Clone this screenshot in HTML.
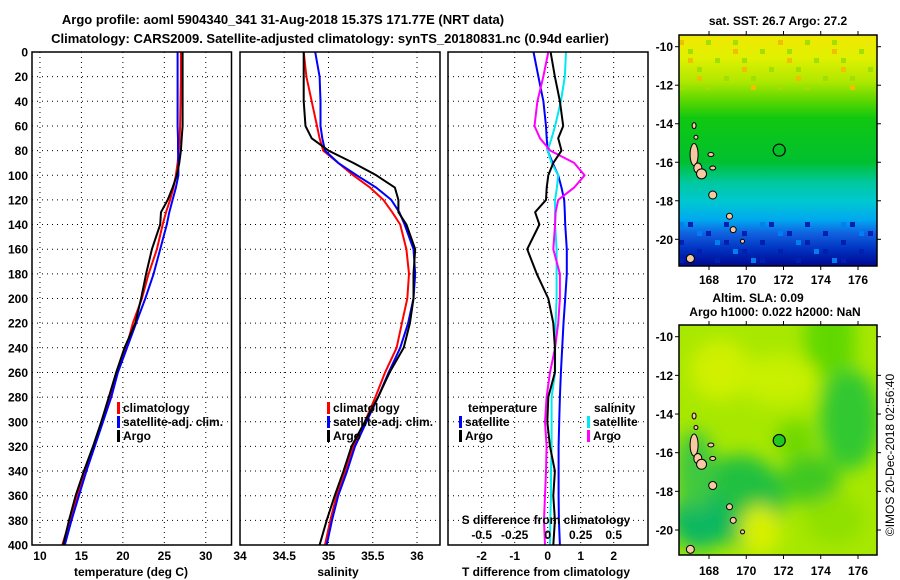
<!DOCTYPE html>
<html><head><meta charset="utf-8"><style>
html,body{margin:0;padding:0;background:#fff;}
svg{display:block;font-family:"Liberation Sans",Arial,sans-serif;font-weight:bold;}
</style></head><body>
<svg id="c" width="900" height="580" viewBox="0 0 900 580" xmlns="http://www.w3.org/2000/svg">
<defs>
<linearGradient id="sstg" x1="0" y1="0" x2="0" y2="1">
<stop offset="0" stop-color="#f0e800"/><stop offset="0.1" stop-color="#e0f000"/><stop offset="0.2" stop-color="#b0e800"/>
<stop offset="0.28" stop-color="#60d800"/><stop offset="0.36" stop-color="#10c810"/><stop offset="0.55" stop-color="#00c030"/>
<stop offset="0.64" stop-color="#00c8a0"/><stop offset="0.72" stop-color="#00c8d0"/><stop offset="0.8" stop-color="#00a8f0"/>
<stop offset="0.86" stop-color="#1060e0"/><stop offset="0.93" stop-color="#0030c0"/><stop offset="1" stop-color="#000890"/>
</linearGradient>
<filter id="bl"><feGaussianBlur stdDeviation="9"/></filter>
<clipPath id="clipTop"><rect x="679" y="35" width="198" height="231"/></clipPath>
<clipPath id="clipBot"><rect x="679" y="325" width="198" height="230"/></clipPath>
</defs>
<g id="root"></g>
</svg>
<script>
// ---------- data ----------
const depths = [0,20,40,60,70,80,90,100,110,120,130,140,160,180,200,220,240,260,280,300,320,340,360,380,400];
const tempClim = [27.0,27.0,26.95,26.9,26.85,26.75,26.6,26.4,26.1,25.7,25.2,24.8,24.1,23.1,22.3,21.2,20.4,19.3,18.4,17.4,16.5,15.4,14.5,13.6,12.7];
const tempSat  = [26.6,26.6,26.6,26.6,26.65,26.65,26.7,26.7,26.4,26.0,25.6,25.3,24.5,23.7,22.7,21.6,20.5,19.4,18.6,17.6,16.6,15.6,14.7,13.8,13.0];
const tempArgo = [27.2,27.2,27.2,27.2,27.1,27.0,26.8,26.5,26.0,25.4,24.6,24.5,23.5,22.8,22.2,21.5,20.2,19.2,18.3,17.4,16.4,15.3,14.3,13.5,12.8];
const salClim = [34.72,34.75,34.81,34.87,34.9,34.94,35.11,35.28,35.47,35.62,35.72,35.81,35.88,35.91,35.89,35.83,35.77,35.64,35.53,35.41,35.28,35.19,35.09,35.02,34.96];
const salSat  = [34.85,34.9,34.91,34.91,34.93,34.96,35.11,35.32,35.54,35.71,35.8,35.86,35.96,35.98,35.96,35.9,35.81,35.68,35.56,35.43,35.3,35.21,35.11,35.04,34.98];
const salArgo = [34.72,34.72,34.72,34.74,34.81,35.0,35.28,35.54,35.75,35.79,35.79,35.88,35.98,35.96,35.96,35.92,35.85,35.69,35.56,35.41,35.26,35.17,35.07,34.98,34.9];
const tDiffSat  = [-0.43,-0.28,-0.13,-0.05,-0.03,0,0.15,0.32,0.42,0.5,0.52,0.53,0.58,0.58,0.53,0.48,0.44,0.4,0.37,0.35,0.33,0.33,0.33,0.34,0.37];
const tDiffArgo = [0.09,0.22,0.37,0.47,0.32,0.42,0.17,0.02,-0.03,-0.05,-0.38,-0.25,-0.62,-0.33,0.02,0.17,0.22,0.22,0.02,-0.01,0.07,0.22,0.17,0.22,0.17];
const sDiffSat  = [0.139,0.13,0.1,0.056,0.03,0,0.03,0.08,0.07,0.056,0.056,0.056,0.068,0.068,0.068,0.06,0.056,0.056,0.03,0.03,0.03,0.025,0.025,0.02,0.018];
const sDiffArgo = [0.005,-0.033,-0.078,-0.1,-0.058,0.02,0.2,0.28,0.2,0.08,0.06,0.056,0.043,0.093,0.093,0.08,0.056,0.018,-0.008,-0.02,-0.008,-0.013,-0.02,-0.028,-0.02];
const depthTicks = [0,20,40,60,80,100,120,140,160,180,200,220,240,260,280,300,320,340,360,380,400];
const tempTicks = [10,15,20,25,30];
const salTicks = [34,34.5,35,35.5,36];
const tdTicks = [-2,-1,0,1,2];
const sdTicks = [-0.5,-0.25,0,0.25,0.5];
const lonTicks = [168,170,172,174,176];
const latTicks = [-10,-12,-14,-16,-18,-20];
const argoLon = 171.77, argoLat = -15.37;

// ---------- helpers ----------
const NS = "http://www.w3.org/2000/svg";
const root = document.getElementById('root');
function mk(tag, attrs, parent){ const e=document.createElementNS(NS,tag); for(const k in attrs) e.setAttribute(k,attrs[k]); (parent||root).appendChild(e); return e; }
function txt(x,y,s,size,anchor,fill,parent){ const t=mk('text',{x:x,y:y,'font-size':size,'text-anchor':anchor||'middle',fill:fill||'#000'},parent); t.textContent=s; return t; }
const PT=52, PB=545;
const yD = d => PT + (d/400)*(PB-PT);
function lin(d0,d1,r0,r1){ return v => r0 + (v-d0)/(d1-d0)*(r1-r0); }

function panel(x0,x1,name){
  const g=mk('g',{});
  
  
  return g;
}
function grid(g,x0,x1,xs,xfn){
  depthTicks.forEach(d=>{ if(d>0&&d<400){ const l=mk('line',{x1:x0,x2:x1,y1:yD(d),y2:yD(d),stroke:'#000','stroke-width':1,'stroke-dasharray':'1,4'},g);   }});
  xs.forEach(v=>{ const x=xfn(v); const l=mk('line',{x1:x,x2:x,y1:PT,y2:PB,stroke:'#000','stroke-width':1,'stroke-dasharray':'1,4'},g);   });
}
function line(g,vals,xfn,color,w,name){
  const pts=vals.map((v,i)=>xfn(v).toFixed(1)+','+yD(depths[i]).toFixed(1)).join(' ');
  const p=mk('polyline',{points:pts,fill:'none',stroke:color,'stroke-width':w,'stroke-linejoin':'round'},g);
  
  
}
function frame(g,x0,x1){ const r=mk('rect',{x:x0,y:PT,width:x1-x0,height:PB-PT,fill:'none',stroke:'#000','stroke-width':1.5},g);   }
function legend(g,x,y,color,label){
  const r=mk('rect',{x:x,y:y-10,width:3,height:12,fill:color},g);
   
  const t=txt(x+6,y,label,12,'start','#000',g);
   
}

// ---------- titles ----------
let t1=txt(283,24,'Argo profile: aoml 5904340_341 31-Aug-2018 15.37S 171.77E (NRT data)',13);
 
let t2=txt(330,43,'Climatology: CARS2009. Satellite-adjusted climatology: synTS_20180831.nc (0.94d earlier)',13);
 

// depth labels
depthTicks.forEach(d=>{ const t=txt(28,yD(d)+4.5,String(d),12,'end');   });

// ---------- panel 1: temperature ----------
const xT = lin(9.04,33.1,32,231.5);
const g1=panel(32,231.5,'temperature-panel');
grid(g1,32,231.5,tempTicks,xT);
line(g1,tempClim,xT,'#ff0000',2,'temp-climatology-line');
line(g1,tempSat,xT,'#0000ff',2,'temp-satellite-line');
line(g1,tempArgo,xT,'#000000',2,'temp-argo-line');
frame(g1,32,231.5);
tempTicks.forEach(v=>{ const t=txt(xT(v),560,String(v),12);   });
let a1=txt(131,576,'temperature (deg C)',12);  
legend(g1,117,412,'#ff0000','climatology');
legend(g1,117,426,'#0000ff','satellite-adj. clim.');
legend(g1,117,440,'#000','Argo');

// ---------- panel 2: salinity ----------
const xS = lin(34,36.26,240,440);
const g2=panel(240,440,'salinity-panel');
grid(g2,240,440,salTicks,xS);
line(g2,salClim,xS,'#ff0000',2,'sal-climatology-line');
line(g2,salSat,xS,'#0000ff',2,'sal-satellite-line');
line(g2,salArgo,xS,'#000000',2,'sal-argo-line');
frame(g2,240,440);
salTicks.forEach(v=>{ const t=txt(xS(v),560,String(v),12);   });
let a2=txt(338,576,'salinity',12);  
legend(g2,327,412,'#ff0000','climatology');
legend(g2,327,426,'#0000ff','satellite-adj. clim.');
legend(g2,327,440,'#000','Argo');

// ---------- panel 3: differences ----------
const xD = lin(-3.02,3.04,448,648);
const xSD = v => xD(v*4);
const g3=panel(448,648,'difference-panel');
grid(g3,448,648,tdTicks,xD);
line(g3,tDiffSat,xD,'#0000ff',2,'tdiff-satellite-line');
line(g3,sDiffSat,xSD,'#00e8f0',2,'sdiff-satellite-line');
line(g3,sDiffArgo,xSD,'#ff00ff',2,'sdiff-argo-line');
line(g3,tDiffArgo,xD,'#000000',2,'tdiff-argo-line');
frame(g3,448,648);
tdTicks.forEach(v=>{ const t=txt(xD(v),560,String(v),12);   });
let a3=txt(546,576,'T difference from climatology',12);  
sdTicks.forEach(v=>{ const t=txt(xSD(v),539,String(v),12);   });
let a4=txt(546,524,'S difference from climatology',12);  
let lt=txt(468,412,'temperature',12,'start');  
legend(g3,459,426,'#0000ff','satellite');
legend(g3,459,440,'#000','Argo');
let ls=txt(594,412,'salinity',12,'start');  
legend(g3,587,426,'#00e8f0','satellite');
legend(g3,587,440,'#ff00ff','Argo');

// ---------- maps ----------
const lonX = lin(168,176,709,858);
function mapAxes(top,bot,lat10,lat20,labelY){
  const latY = lin(-10,-20,lat10,lat20);
  lonTicks.forEach(v=>{ const x=lonX(v); mk('line',{x1:x,x2:x,y1:top-4,y2:top,stroke:'#000'}); mk('line',{x1:x,x2:x,y1:bot,y2:bot+4,stroke:'#000'}); const t=txt(x,labelY,String(v),12);   });
  latTicks.forEach(v=>{ const y=latY(v); mk('line',{x1:675,x2:679,y1:y,y2:y,stroke:'#000'}); mk('line',{x1:877,x2:881,y1:y,y2:y,stroke:'#000'}); const t=txt(673,y+4.5,String(v),12,'end');   });
  return latY;
}
function islands(g,latY){
  const isl=[[167.2,-15.6,4,11],[167.4,-16.3,4,5],[168.1,-15.6,3,2],[167.6,-16.6,5,5],[168.2,-16.3,3,2],[168.2,-17.7,4,4],[169.1,-18.8,3,3],[169.3,-19.5,3,3],[169.8,-20.1,2,2],[167.0,-21,4,4],[167.2,-14.1,2,3],[167.3,-14.7,2,2]];
  isl.forEach(s=>{ const e=mk('ellipse',{cx:lonX(s[0]),cy:latY(s[1]),rx:s[2],ry:s[3],fill:'#f8c8a0',stroke:'#000','stroke-width':1},g);   });
}
// top map
const gm1=mk('g',{'clip-path':'url(#clipTop)'});
 
mk('rect',{x:679,y:35,width:198,height:231,fill:'url(#sstg)'},gm1);
// some pixel texture
for(let i=0;i<22;i++){ for(let j=0;j<6;j++){ const v=(i*37+j*53)%11; if(v<3){ mk('rect',{x:679+i*9,y:40+j*9,width:5,height:5,fill:v==0?'#f0c000':'#a0e000'},gm1);} } }
for(let i=0;i<22;i++){ for(let j=0;j<5;j++){ const v=(i*29+j*41)%9; if(v<3){ mk('rect',{x:679+i*9,y:222+j*9,width:5,height:5,fill:v==0?'#0080f0':'#0020b0'},gm1);} } }
const latY1 = mapAxes(35,266,46.7,239.3,284);
islands(gm1,latY1);
mk('rect',{x:679,y:35,width:198,height:231,fill:'none',stroke:'#000','stroke-width':1.5});
let c1=mk('circle',{cx:lonX(argoLon),cy:latY1(argoLat),r:6,fill:'none',stroke:'#000','stroke-width':1.2});  
let mt1=txt(778,25,'sat. SST: 26.7 Argo: 27.2',12);  

// bottom map
const gm2=mk('g',{'clip-path':'url(#clipBot)'});
 
mk('rect',{x:679,y:325,width:198,height:230,fill:'#a8e800'},gm2);
const blobs=[[830,340,25,60,'#60d800'],[850,420,30,50,'#30c830'],[740,500,45,45,'#20c040'],[700,520,30,30,'#10b860'],[810,480,30,25,'#40c820'],[795,440,20,20,'#70d800'],[720,370,30,30,'#d0f000'],[780,380,40,25,'#c8f000'],[760,530,20,25,'#d8f000'],[835,520,30,25,'#90e000'],[695,470,20,40,'#40c840']];
const gb=mk('g',{filter:'url(#bl)'},gm2);
blobs.forEach(b=>mk('ellipse',{cx:b[0],cy:b[1],rx:b[2],ry:b[3],fill:b[4]},gb));
const latY2 = mapAxes(325,555,336.7,530,575);
islands(gm2,latY2);
mk('rect',{x:679,y:325,width:198,height:230,fill:'none',stroke:'#000','stroke-width':1.5});
let c2=mk('circle',{cx:lonX(argoLon),cy:latY2(argoLat),r:6,fill:'#20c820',stroke:'#000','stroke-width':1.2});  
let mt2=txt(758,302,'Altim. SLA: 0.09',12);  
let mt3=txt(775,316,'Argo h1000: 0.022 h2000: NaN',12);  
let cr=txt(0,0,'©IMOS 20-Dec-2018 02:56:40',12,'middle'); cr.setAttribute('transform','translate(894,455) rotate(-90)'); cr.setAttribute('font-weight','normal');
 
</script>
</body></html>
